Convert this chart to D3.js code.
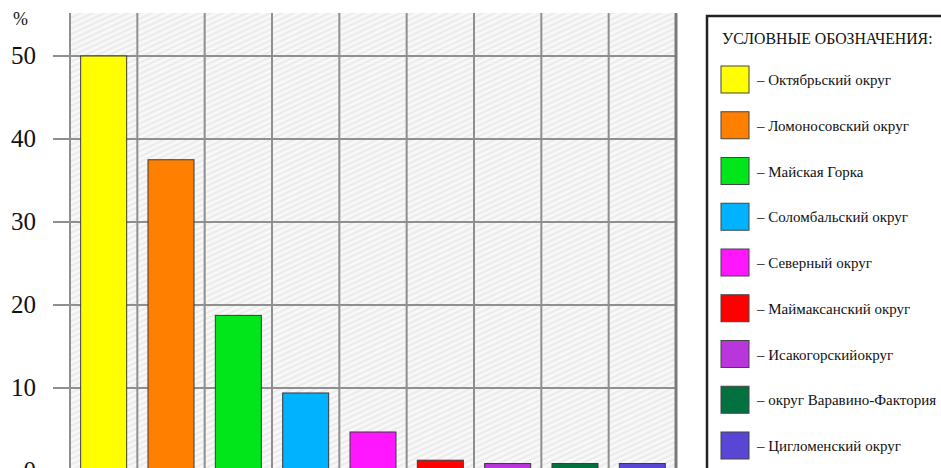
<!DOCTYPE html>
<html>
<head>
<meta charset="utf-8">
<script src="https://cdn.jsdelivr.net/npm/d3@7"></script>
<style>
  body { margin: 0; background: #fff; }
  svg { display: block; font-family: "Liberation Serif", "DejaVu Serif", serif; }
</style>
</head>
<body>
<svg id="chart" width="941" height="468"></svg>
<script>
// data
const districts = ["Октябрьский округ", "Ломоносовский округ", "Майская Горка", "Соломбальский округ",
  "Северный округ", "Маймаксанский округ", "Исакогорскийокруг", "округ Варавино-Фактория", "Цигломенский округ"];
const percents = [50, 37.5, 18.75, 9.4, 4.7, 1.3, 0.9, 0.9, 0.9];
const barColors = ["#ffff00", "#ff7f00", "#00e61a", "#00b2ff", "#ff18ff", "#ff0000", "#b935dc", "#03703f", "#5a46d4"];
const yTicks = [0, 10, 20, 30, 40, 50];
const legendTitle = "УСЛОВНЫЕ ОБОЗНАЧЕНИЯ:";

const svg = d3.select("#chart");

// plot area
const plotLeft = 70, plotRight = 676, plotTop = 13, plotBottom = 471;

const xScale = d3.scaleBand()
  .domain(districts)
  .range([plotLeft, plotRight]);

const yScale = d3.scaleLinear()
  .domain([0, 50])
  .range([plotBottom, 56]);

// hatched background
const defs = svg.append("defs");
const pat = defs.append("pattern")
  .attr("id", "hatch")
  .attr("patternUnits", "userSpaceOnUse")
  .attr("width", 5)
  .attr("height", 5)
  .attr("patternTransform", "rotate(-25)");
pat.append("rect").attr("width", 5).attr("height", 5).attr("fill", "#f8f8f8");
pat.append("line")
  .attr("x1", 0).attr("y1", 1).attr("x2", 5).attr("y2", 1)
  .attr("stroke", "#e6e6e6").attr("stroke-width", 1.4);

svg.append("rect")
  .attr("x", plotLeft)
  .attr("y", plotTop)
  .attr("width", plotRight - plotLeft)
  .attr("height", plotBottom - plotTop)
  .attr("fill", "url(#hatch)");

// horizontal grid + tick marks
svg.append("g")
  .selectAll("line")
  .data(yTicks)
  .enter()
  .append("line")
  .attr("x1", 53)
  .attr("x2", plotRight)
  .attr("y1", d => yScale(d))
  .attr("y2", d => yScale(d))
  .attr("stroke", "#8f8f8f")
  .attr("stroke-width", 2);

// vertical grid
const vLines = districts.map(d => xScale(d)).concat([plotRight]);
svg.append("g")
  .selectAll("line")
  .data(vLines)
  .enter()
  .append("line")
  .attr("x1", d => d)
  .attr("x2", d => d)
  .attr("y1", plotTop)
  .attr("y2", plotBottom)
  .attr("stroke", (d, i) => i === vLines.length - 1 ? "#7a7a7a" : "#8f8f8f")
  .attr("stroke-width", (d, i) => i === vLines.length - 1 ? 3 : 2);

// y labels
svg.append("g")
  .selectAll("text")
  .data(yTicks)
  .enter()
  .append("text")
  .attr("x", 36)
  .attr("y", d => yScale(d) + 8)
  .attr("text-anchor", "end")
  .style("font-size", "25px")
  .style("fill", "#111")
  .text(d => d);

svg.append("text")
  .attr("x", 13)
  .attr("y", 25)
  .style("font-size", "18px")
  .style("fill", "#111")
  .text("%");

// bars
const barW = 46;
svg.append("g")
  .selectAll("rect")
  .data(percents)
  .enter()
  .append("rect")
  .attr("x", (d, i) => xScale(districts[i]) + xScale.bandwidth() / 2 - barW / 2)
  .attr("y", d => yScale(d))
  .attr("width", barW)
  .attr("height", d => yScale(0) - yScale(d))
  .attr("fill", (d, i) => barColors[i])
  .attr("stroke", "#3a3a3a")
  .attr("stroke-width", 1);

// legend
const legend = svg.append("g").attr("transform", "translate(707,16)");
legend.append("rect")
  .attr("x", 0)
  .attr("y", 0)
  .attr("width", 260)
  .attr("height", 480)
  .attr("fill", "#fff")
  .attr("stroke", "#222")
  .attr("stroke-width", 2.5);

legend.append("text")
  .attr("x", 15)
  .attr("y", 28)
  .style("font-size", "15.8px")
  .style("fill", "#111")
  .text(legendTitle);

const items = legend.selectAll("g.item")
  .data(districts)
  .enter()
  .append("g")
  .attr("class", "item")
  .attr("transform", (d, i) => `translate(14, ${50 + i * 45.75})`);

items.append("rect")
  .attr("width", 28)
  .attr("height", 27)
  .attr("fill", (d, i) => barColors[i])
  .attr("stroke", "#444")
  .attr("stroke-width", 1);

items.append("text")
  .attr("x", 36)
  .attr("y", 19)
  .style("font-size", "15px")
  .style("fill", "#111")
  .text(d => "– " + d);
</script>
</body>
</html>
